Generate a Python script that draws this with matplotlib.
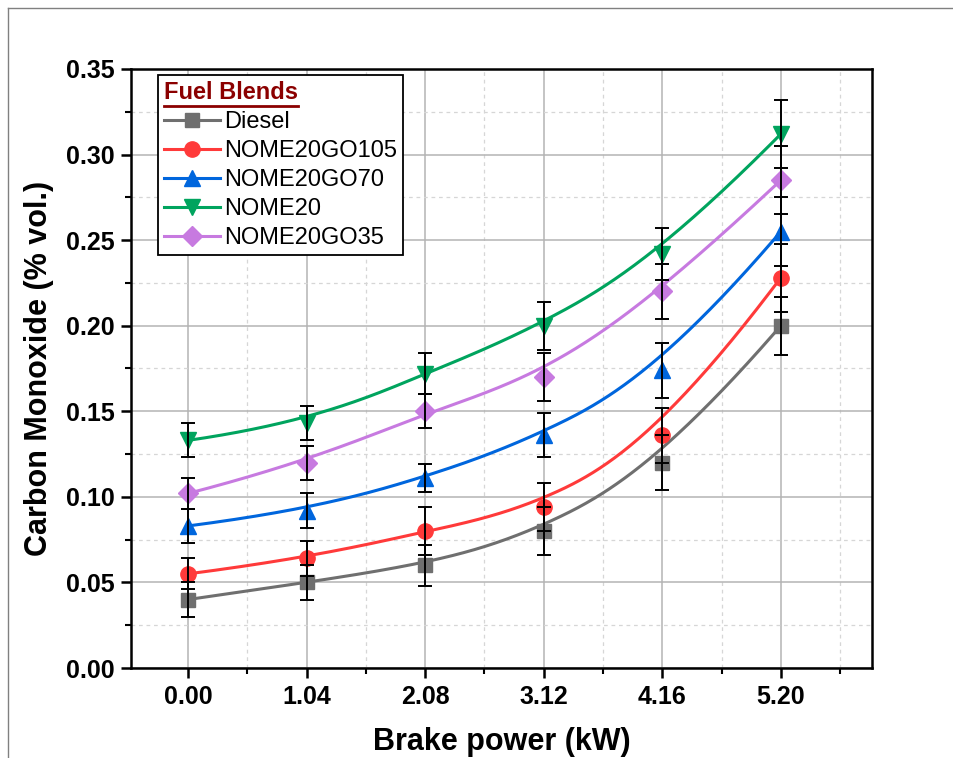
import numpy as np
import matplotlib
matplotlib.use("Agg")
import matplotlib.pyplot as plt
from matplotlib.ticker import MultipleLocator, FormatStrFormatter
from matplotlib.lines import Line2D

plt.rcParams['font.family'] = ['Liberation Sans', 'DejaVu Sans']

# Données
puissance = [0.00, 1.04, 2.08, 3.12, 4.16, 5.20]

co_diesel = [0.040, 0.050, 0.060, 0.080, 0.120, 0.200]
co_go105 = [0.055, 0.064, 0.080, 0.094, 0.136, 0.228]
co_go70 = [0.083, 0.092, 0.111, 0.136, 0.174, 0.255]
co_nome20 = [0.133, 0.143, 0.172, 0.200, 0.242, 0.312]
co_go35 = [0.102, 0.120, 0.150, 0.170, 0.220, 0.285]

err_diesel = [0.010, 0.010, 0.012, 0.014, 0.016, 0.017]
err_go105 = [0.009, 0.010, 0.014, 0.014, 0.016, 0.020]
err_go70 = [0.010, 0.010, 0.008, 0.013, 0.016, 0.020]
err_nome20 = [0.010, 0.010, 0.012, 0.014, 0.015, 0.020]
err_go35 = [0.009, 0.010, 0.010, 0.014, 0.016, 0.020]

noms = ["Diesel", "NOME20GO105", "NOME20GO70", "NOME20", "NOME20GO35"]
valeurs = [co_diesel, co_go105, co_go70, co_nome20, co_go35]
erreurs = [err_diesel, err_go105, err_go70, err_nome20, err_go35]
couleurs = ['#6f6f6f', '#ff3a3a', '#0066dd', '#00a45e', '#c77ae0']
marqueurs = ['s', 'o', '^', 'v', 'D']
tailles = [10, 11, 12, 12, 10]


def base(i, p, t, knots):
    # fonction de base B-spline (Cox-de Boor)
    if p == 0:
        return ((knots[i] <= t) & (t < knots[i + 1])).astype(float)
    res = np.zeros_like(t)
    if knots[i + p] != knots[i]:
        res += (t - knots[i]) / (knots[i + p] - knots[i]) * base(i, p - 1, t, knots)
    if knots[i + p + 1] != knots[i + 1]:
        res += (knots[i + p + 1] - t) / (knots[i + p + 1] - knots[i + 1]) * base(i + 1, p - 1, t, knots)
    return res


def bspline(xs, ys, n=300, k=3):
    m = len(xs)
    knots = np.concatenate([[0] * k, np.arange(m - k + 1), [m - k] * k]).astype(float)
    t = np.linspace(0, m - k, n)
    t[-1] -= 1e-9
    cx = np.zeros(n)
    cy = np.zeros(n)
    for i in range(m):
        b = base(i, k, t, knots)
        cx += b * xs[i]
        cy += b * ys[i]
    return cx, cy


fig = plt.figure(figsize=(9.54, 7.58), dpi=100)
ax = fig.add_axes([131 / 954, 1 - 668 / 758, (872 - 131) / 954, (668 - 69) / 758])

for nom, y, e, c, m, ms in zip(noms, valeurs, erreurs, couleurs, marqueurs, tailles):
    cx, cy = bspline(puissance, y)
    ax.plot(cx, cy, color=c, lw=2.2, zorder=3)
    ax.plot(puissance, y, linestyle='none', marker=m, color=c, ms=ms, zorder=4)
    ax.errorbar(puissance, y, yerr=e, fmt='none', ecolor='black', elinewidth=1.4,
                capsize=5, capthick=1.4, zorder=5)

ax.set_xlim(-0.5, 6.0)
ax.set_ylim(0, 0.35)
ax.set_xticks(puissance)
ax.xaxis.set_minor_locator(MultipleLocator(0.52))
ax.yaxis.set_major_locator(MultipleLocator(0.05))
ax.yaxis.set_minor_locator(MultipleLocator(0.025))
ax.xaxis.set_major_formatter(FormatStrFormatter('%.2f'))
ax.yaxis.set_major_formatter(FormatStrFormatter('%.2f'))

ax.grid(True, which='major', color='#b4b4b4', lw=1.1)
ax.grid(True, which='minor', color='#d6d6d6', lw=0.9, linestyle=(0, (3, 3)))
ax.set_axisbelow(True)

for s in ax.spines.values():
    s.set_linewidth(1.8)
ax.tick_params(which='major', direction='out', length=7, width=1.8, labelsize=18, pad=5)
ax.tick_params(which='minor', direction='out', length=4, width=1.5)
for lab in ax.get_xticklabels() + ax.get_yticklabels():
    lab.set_fontweight('bold')

ax.set_xlabel('Brake power (kW)', fontsize=22, fontweight='bold', labelpad=13)
ax.set_ylabel('Carbon Monoxide (% vol.)', fontsize=22, fontweight='bold', labelpad=8)

poignees = [Line2D([], [], color=c, marker=m, ms=ms, lw=2.2)
            for c, m, ms in zip(couleurs, marqueurs, tailles)]
leg = ax.legend(poignees, noms, loc='upper left', bbox_to_anchor=(0.036, 0.99),
                fontsize=17, title='Fuel Blends', alignment='left',
                title_fontproperties={'weight': 'bold', 'size': 17},
                frameon=True, fancybox=False, edgecolor='black', framealpha=1,
                handlelength=2.4, handletextpad=0.15, labelspacing=0.3,
                borderpad=0.25, borderaxespad=0)
leg.get_frame().set_linewidth(1.3)
leg.get_title().set_color('#8b0000')
leg.set_zorder(10)

# soulignement du titre de la légende
fig.canvas.draw()
bb = leg.get_title().get_window_extent().transformed(fig.transFigure.inverted())
fig.add_artist(Line2D([bb.x0, bb.x1], [bb.y0 - 0.003, bb.y0 - 0.003],
                      color='#8b0000', lw=2, zorder=11))

# cadre extérieur
fig.add_artist(Line2D([8 / 954, 8 / 954], [0, 1 - 8 / 758], color='#808080', lw=1))
fig.add_artist(Line2D([8 / 954, 1], [1 - 8 / 758, 1 - 8 / 758], color='#808080', lw=1))

plt.savefig('out.png', dpi=100)
